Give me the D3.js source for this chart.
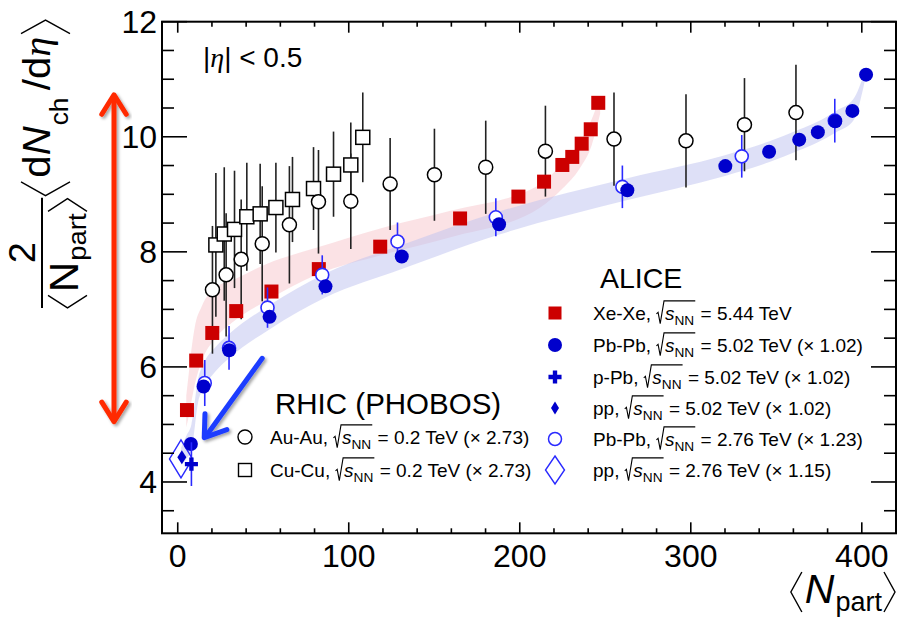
<!DOCTYPE html>
<html>
<head>
<meta charset="utf-8">
<script src="https://cdn.jsdelivr.net/npm/d3@7"></script>
<style>
body { margin: 0; background: #fff; }
svg { display: block; font-family: "Liberation Sans", Arial, Helvetica, sans-serif; }
</style>
</head>
<body>
<svg id="chart" width="898" height="619"></svg>
<script>
// ALICE Xe-Xe 5.44 TeV
const xeXeNpart = [5.4, 10.8, 20.2, 34.2, 54.8, 82.5, 118.4, 165.1, 199.2, 214.2, 224.9, 230.7, 236.2, 241.5, 245.9];
const xeXeValue = [5.25, 6.11, 6.59, 6.97, 7.31, 7.70, 8.09, 8.58, 8.96, 9.22, 9.51, 9.65, 9.88, 10.13, 10.59];

// ALICE Pb-Pb 5.02 TeV (x 1.02)
const pbPb502Npart = [7.7, 15.1, 30.1, 53.7, 86.4, 131.0, 187.9, 262.9, 320.2, 345.8, 363.4, 374.3, 384.5, 394.5, 402.5];
const pbPb502Value = [4.66, 5.66, 6.29, 6.87, 7.40, 7.92, 8.48, 9.07, 9.49, 9.74, 9.95, 10.08, 10.27, 10.45, 11.08];

// ALICE Pb-Pb 2.76 TeV (x 1.23)
const pbPb276Npart = [15.8, 30.0, 52.5, 84.5, 128.5, 186.0, 260.0, 329.8, 384.2];
const pbPb276Value = [5.72, 6.33, 7.03, 7.60, 8.18, 8.60, 9.13, 9.66, 10.28];
const pbPb276Err = [0.40, 0.38, 0.35, 0.34, 0.33, 0.33, 0.37, 0.37, 0.38];

// ALICE p-Pb and pp
const pPbPoint = { npart: 8.0, value: 4.31, err: 0.38 };
const pp502Point = { npart: 2.4, value: 4.43 };
const pp276Point = { npart: 1.9, value: 4.40 };

// PHOBOS Au-Au and Cu-Cu 0.2 TeV (x 2.73)
const auAuNpart = [20.3, 28.3, 37.1, 49.4, 65.3, 82.3, 101.2, 124.2, 150.1, 180.1, 215.0, 255.1, 297.2, 331.4, 361.5];
const auAuValue = [7.34, 7.60, 7.87, 8.14, 8.47, 8.87, 8.88, 9.18, 9.34, 9.47, 9.75, 9.96, 9.93, 10.21, 10.42];
const auAuErr = [1.11, 1.07, 1.04, 1.00, 1.02, 0.90, 0.83, 0.80, 0.80, 0.81, 0.79, 0.81, 0.81, 0.81, 0.83];

const cuCuNpart = [22.3, 27.2, 33.2, 40.4, 48.2, 57.4, 67.1, 79.4, 91.1, 101.2, 108.2];
const cuCuValue = [8.12, 8.31, 8.39, 8.61, 8.66, 8.77, 8.91, 9.10, 9.35, 9.51, 9.99];
const cuCuErr = [1.25, 1.16, 1.02, 0.94, 0.87, 0.78, 0.74, 0.72, 0.74, 0.74, 0.78];

// bands
const xeBandN  = [5, 6.5, 8, 10, 14, 22, 33, 52, 81, 120, 159, 212, 225, 235, 242, 247];
const xeBandHi = [5.5, 5.9, 6.3, 6.7, 7.05, 7.38, 7.52, 7.79, 8.07, 8.42, 8.71, 9.17, 9.55, 9.9, 10.3, 10.7];
const xeBandLo = [4.95, 5.15, 5.4, 5.7, 6.1, 6.5, 6.8, 7.15, 7.6, 7.95, 8.25, 8.77, 9.1, 9.45, 9.85, 10.4];

const pbBandN  = [2, 5, 8, 12, 15, 22, 30, 54, 86, 131, 188, 263, 320, 346, 363, 374, 385, 395, 402];
const pbBandLo = [4.3, 4.4, 4.55, 5.4, 5.62, 5.92, 6.15, 6.66, 7.2, 7.7, 8.3, 8.9, 9.32, 9.56, 9.76, 9.9, 10.08, 10.28, 11.0];
const pbBandHi = [4.6, 4.8, 5.0, 5.8, 6.05, 6.34, 6.57, 7.08, 7.62, 8.12, 8.7, 9.28, 9.68, 9.92, 10.12, 10.26, 10.45, 10.65, 11.15];

// axis ticks
const xMajor = [0, 100, 200, 300, 400];
const yMajor = [4, 6, 8, 10, 12];

const svg = d3.select("#chart");
const frame = { left: 162, right: 896, top: 21.7, bottom: 533.3 };

const x = d3.scaleLinear().domain([-9.2, 420]).range([frame.left, frame.right]);
const y = d3.scaleLinear().domain([3.108, 12]).range([frame.bottom, frame.top]);

const defs = svg.append("defs");
const shadow = defs.append("filter").attr("id", "shadow")
    .attr("x", "-20%").attr("y", "-20%").attr("width", "140%").attr("height", "140%");
shadow.append("feDropShadow")
    .attr("dx", 2).attr("dy", 2).attr("stdDeviation", 1.6)
    .attr("flood-color", "#000").attr("flood-opacity", 0.35);

const plot = svg.append("g");

// bands
function drawBand(ns, lo, hi, fill) {
    const pts = ns.map((n, i) => ({ n: n, lo: lo[i], hi: hi[i] }));
    const area = d3.area()
        .x(d => x(d.n))
        .y0(d => y(d.lo))
        .y1(d => y(d.hi))
        .curve(d3.curveMonotoneX);
    plot.append("path")
        .datum(pts)
        .attr("d", area)
        .attr("fill", fill)
        .attr("fill-opacity", 0.5);
}
drawBand(xeBandN, xeBandLo, xeBandHi, "rgb(248,198,204)");
drawBand(pbBandN, pbBandLo, pbBandHi, "rgb(190,194,240)");

// error bars
function drawErrors(ns, vs, errs, color, width) {
    plot.append("g").selectAll("line")
        .data(ns.map((n, i) => ({ n: n, v: vs[i], e: errs[i] })))
        .enter().append("line")
        .attr("x1", d => x(d.n)).attr("x2", d => x(d.n))
        .attr("y1", d => y(d.v - d.e)).attr("y2", d => y(d.v + d.e))
        .attr("stroke", color)
        .attr("stroke-width", width);
}

function diamondPath(w, h) {
    return `M0,${-h / 2} L${w / 2},0 L0,${h / 2} L${-w / 2},0 Z`;
}

drawErrors(auAuNpart, auAuValue, auAuErr, "#222", 1.6);
drawErrors(cuCuNpart, cuCuValue, cuCuErr, "#222", 1.6);

// PHOBOS markers
plot.append("g").selectAll("rect")
    .data(cuCuNpart.map((n, i) => ({ n: n, v: cuCuValue[i] })))
    .enter().append("rect")
    .attr("x", d => x(d.n) - 7).attr("y", d => y(d.v) - 7)
    .attr("width", 14).attr("height", 14)
    .attr("fill", "#fff").attr("stroke", "#000").attr("stroke-width", 1.5);

plot.append("g").selectAll("circle")
    .data(auAuNpart.map((n, i) => ({ n: n, v: auAuValue[i] })))
    .enter().append("circle")
    .attr("cx", d => x(d.n)).attr("cy", d => y(d.v))
    .attr("r", 7)
    .attr("fill", "#fff").attr("stroke", "#000").attr("stroke-width", 1.5);

// Xe-Xe
plot.append("g").selectAll("rect")
    .data(xeXeNpart.map((n, i) => ({ n: n, v: xeXeValue[i] })))
    .enter().append("rect")
    .attr("x", d => x(d.n) - 7).attr("y", d => y(d.v) - 7)
    .attr("width", 14).attr("height", 14)
    .attr("fill", "#cc0000");

// pp 2.76 open diamond
plot.append("path")
    .attr("d", diamondPath(23, 38))
    .attr("transform", `translate(${x(pp276Point.npart)},${y(pp276Point.value)})`)
    .attr("fill", "none").attr("stroke", "#2a2aff").attr("stroke-width", 1.4);

// Pb-Pb 2.76 open circles
drawErrors(pbPb276Npart, pbPb276Value, pbPb276Err, "#2a2aff", 1.6);
plot.append("g").selectAll("circle")
    .data(pbPb276Npart.map((n, i) => ({ n: n, v: pbPb276Value[i] })))
    .enter().append("circle")
    .attr("cx", d => x(d.n)).attr("cy", d => y(d.v))
    .attr("r", 6.5)
    .attr("fill", "#fff").attr("stroke", "#2a2aff").attr("stroke-width", 1.6);

// Pb-Pb 5.02 filled circles
plot.append("g").selectAll("circle")
    .data(pbPb502Npart.map((n, i) => ({ n: n, v: pbPb502Value[i] })))
    .enter().append("circle")
    .attr("cx", d => x(d.n)).attr("cy", d => y(d.v))
    .attr("r", 7)
    .attr("fill", "#0000cc");

// p-Pb cross
drawErrors([pPbPoint.npart], [pPbPoint.value], [pPbPoint.err], "#2a2aff", 1.6);
plot.append("path")
    .attr("d", d3.symbol(d3.symbolCross, 95)())
    .attr("transform", `translate(${x(pPbPoint.npart)},${y(pPbPoint.value)})`)
    .attr("fill", "#0000cc");

// pp 5.02 filled diamond
plot.append("path")
    .attr("d", diamondPath(9, 14))
    .attr("transform", `translate(${x(pp502Point.npart)},${y(pp502Point.value)})`)
    .attr("fill", "#0000cc");

// axes
const axisG = svg.append("g").attr("stroke", "#000");
axisG.append("rect")
    .attr("x", frame.left).attr("y", frame.top)
    .attr("width", frame.right - frame.left).attr("height", frame.bottom - frame.top)
    .attr("fill", "none").attr("stroke-width", 2);

const xMinor = d3.range(0, 421, 20).filter(v => v % 100 !== 0);
const yMinor = d3.range(3.5, 12, 0.5).filter(v => v % 2 !== 0);

function ticksX(vals, len) {
    vals.forEach(v => {
        axisG.append("line").attr("x1", x(v)).attr("x2", x(v))
            .attr("y1", frame.bottom).attr("y2", frame.bottom - len).attr("stroke-width", 1.6);
        axisG.append("line").attr("x1", x(v)).attr("x2", x(v))
            .attr("y1", frame.top).attr("y2", frame.top + len).attr("stroke-width", 1.6);
    });
}
function ticksY(vals, len) {
    vals.forEach(v => {
        axisG.append("line").attr("x1", frame.left).attr("x2", frame.left + len)
            .attr("y1", y(v)).attr("y2", y(v)).attr("stroke-width", 1.6);
        axisG.append("line").attr("x1", frame.right).attr("x2", frame.right - len)
            .attr("y1", y(v)).attr("y2", y(v)).attr("stroke-width", 1.6);
    });
}
ticksX(xMajor, 11);
ticksX(xMinor, 5);
ticksY(yMajor, 25);
ticksY(yMinor, 12);

svg.append("g").selectAll("text")
    .data(xMajor).enter().append("text")
    .attr("x", d => x(d)).attr("y", 567)
    .attr("text-anchor", "middle")
    .style("font-size", "32px")
    .text(d => d);

svg.append("g").selectAll("text")
    .data(yMajor).enter().append("text")
    .attr("x", 157).attr("y", d => y(d) + 11.5)
    .attr("text-anchor", "end")
    .style("font-size", "32px")
    .text(d => d);

// helpers for formula-like text
function bracket(g, x0, yTop, yBot, w, left) {
    const mid = (yTop + yBot) / 2;
    const d = left
        ? `M${x0 + w},${yTop} L${x0},${mid} L${x0 + w},${yBot}`
        : `M${x0},${yTop} L${x0 + w},${mid} L${x0},${yBot}`;
    g.append("path").attr("d", d).attr("fill", "none").attr("stroke", "#000").attr("stroke-width", 1.4);
}
function word(g, x0, yb, size, txt, opts) {
    opts = opts || {};
    const t = g.append("text").attr("x", x0).attr("y", yb)
        .style("font-size", size + "px").text(txt);
    if (opts.italic) t.style("font-style", "italic");
    if (opts.serif) t.style("font-family", "'Liberation Serif', 'DejaVu Serif', serif");
    return t.node().getComputedTextLength();
}

// x axis title  <N_part>
(function () {
    const g = svg.append("g");
    let cx = 0;
    bracket(g, cx, -31, 9, 11, true); cx += 14;
    cx += word(g, cx, 0, 41, "N", { italic: true }) + 1;
    cx += word(g, cx, 8, 27, "part") + 2;
    bracket(g, cx, -31, 9, 11, false); cx += 12;
    g.attr("transform", `translate(${frame.right - cx},603)`);
})();

// y axis title  2/<N_part> <dN_ch/d eta>
(function () {
    const g = svg.append("g");
    let cx = 0;
    // denominator
    bracket(g, cx, -2, 37, 12, true); cx += 15;
    cx += word(g, cx, 28, 40, "N") + 1;
    cx += word(g, cx, 36, 26, "part") + 2;
    bracket(g, cx, -2, 37, 12, false); cx += 13;
    const wd = cx;
    g.append("line").attr("x1", 0).attr("x2", wd).attr("y1", -8).attr("y2", -8)
        .attr("stroke", "#000").attr("stroke-width", 2);
    g.append("text").attr("x", wd / 2).attr("y", -15).attr("text-anchor", "middle")
        .style("font-size", "36px").text("2");
    cx += 2;
    bracket(g, cx, -29, 20, 13, true); cx += 17;
    cx += word(g, cx, 0, 38, "d");
    cx += word(g, cx, 0, 38, "N", { italic: true }) + 1;
    cx += word(g, cx, 18, 25, "ch") + 7;
    cx += word(g, cx, 0, 38, "/");
    cx += word(g, cx, 0, 38, "d");
    cx += word(g, cx, 0, 38, "\u03b7", { italic: true, serif: true }) + 3;
    bracket(g, cx, -29, 20, 13, false); cx += 13;
    const sx = Math.max(1, Math.min(1.4, 288 / cx));
    g.attr("transform", `translate(50,308) rotate(-90) scale(${sx},1)`);
})();

// |eta| < 0.5
const etaText = svg.append("text").attr("x", 203).attr("y", 67).style("font-size", "28px");
etaText.append("tspan").text("|");
etaText.append("tspan").style("font-style", "italic")
    .style("font-family", "'Liberation Serif', 'DejaVu Serif', serif").text("\u03b7");
etaText.append("tspan").text("| < 0.5");

// legend entry with sqrt(s_NN)
function legendLabel(x0, yb, fs, prefix, rest) {
    const g = svg.append("g");
    let cx = x0;
    cx += word(g, cx, yb, fs, prefix) + fs * 0.28;
    const rx = cx;
    const rw = fs * 0.4;
    cx += rw + 1;
    cx += word(g, cx, yb, fs, "s", { italic: true });
    cx += word(g, cx, yb + fs * 0.3, fs * 0.72, "NN") + 1;
    const top = yb - fs * 0.98;
    g.append("path")
        .attr("d", `M${rx},${yb - fs * 0.3} L${rx + rw * 0.22},${yb - fs * 0.38} L${rx + rw * 0.5},${yb + fs * 0.22} L${rx + rw},${top} L${cx},${top}`)
        .attr("fill", "none").attr("stroke", "#000").attr("stroke-width", 1.1);
    cx += fs * 0.28;
    word(g, cx, yb, fs, rest);
}

// RHIC legend
svg.append("text").attr("x", 275).attr("y", 414).style("font-size", "29.5px").text("RHIC (PHOBOS)");
svg.append("circle").attr("cx", 245).attr("cy", 437).attr("r", 7)
    .attr("fill", "#fff").attr("stroke", "#000").attr("stroke-width", 1.4);
svg.append("rect").attr("x", 238.5).attr("y", 463.5).attr("width", 13).attr("height", 13)
    .attr("fill", "#fff").attr("stroke", "#000").attr("stroke-width", 1.4);
legendLabel(270, 443.5, 19, "Au-Au,", "= 0.2 TeV (\u00d7 2.73)");
legendLabel(270, 476.5, 19, "Cu-Cu,", "= 0.2 TeV (\u00d7 2.73)");

// ALICE legend
svg.append("text").attr("x", 600).attr("y", 288).style("font-size", "28.5px").text("ALICE");
const lx = 555;
const rowY = [313, 345, 377, 408, 439, 470];
svg.append("rect").attr("x", lx - 6.5).attr("y", rowY[0] - 6.5).attr("width", 13).attr("height", 13).attr("fill", "#cc0000");
svg.append("circle").attr("cx", lx).attr("cy", rowY[1]).attr("r", 7).attr("fill", "#0000cc");
svg.append("path").attr("d", d3.symbol(d3.symbolCross, 95)()).attr("transform", `translate(${lx},${rowY[2]})`).attr("fill", "#0000cc");
svg.append("path").attr("d", diamondPath(8, 13)).attr("transform", `translate(${lx},${rowY[3]})`).attr("fill", "#0000cc");
svg.append("circle").attr("cx", lx).attr("cy", rowY[4]).attr("r", 6.5)
    .attr("fill", "#fff").attr("stroke", "#2a2aff").attr("stroke-width", 1.5);
svg.append("path").attr("d", diamondPath(19, 28)).attr("transform", `translate(${lx},${rowY[5]})`)
    .attr("fill", "none").attr("stroke", "#2a2aff").attr("stroke-width", 1.4);

legendLabel(593, rowY[0] + 6.5, 19, "Xe-Xe,", "= 5.44 TeV");
legendLabel(593, rowY[1] + 6.5, 19, "Pb-Pb,", "= 5.02 TeV (\u00d7 1.02)");
legendLabel(593, rowY[2] + 6.5, 19, "p-Pb,", "= 5.02 TeV (\u00d7 1.02)");
legendLabel(593, rowY[3] + 6.5, 19, "pp,", "= 5.02 TeV (\u00d7 1.02)");
legendLabel(593, rowY[4] + 6.5, 19, "Pb-Pb,", "= 2.76 TeV (\u00d7 1.23)");
legendLabel(593, rowY[5] + 6.5, 19, "pp,", "= 2.76 TeV (\u00d7 1.15)");

// annotation arrows
function arrowHead(g, tx, ty, fx, fy, len, ang) {
    const a = Math.atan2(fy - ty, fx - tx);
    const p1 = [tx + len * Math.cos(a + ang), ty + len * Math.sin(a + ang)];
    const p2 = [tx + len * Math.cos(a - ang), ty + len * Math.sin(a - ang)];
    g.append("path").attr("d", `M${p1[0]},${p1[1]} L${tx},${ty} L${p2[0]},${p2[1]}`)
        .attr("fill", "none");
}

const redArrow = svg.append("g").attr("stroke", "#ff2a00").attr("stroke-width", 5)
    .attr("stroke-linecap", "round").attr("stroke-linejoin", "round").attr("filter", "url(#shadow)");
const ra = { x: 114, top: y(10.73), bot: y(5.05) };
redArrow.append("line").attr("x1", ra.x).attr("x2", ra.x).attr("y1", ra.top + 2).attr("y2", ra.bot - 2);
arrowHead(redArrow, ra.x, ra.top, ra.x, ra.bot, 23, 0.56);
arrowHead(redArrow, ra.x, ra.bot, ra.x, ra.top, 23, 0.56);

const blueArrow = svg.append("g").attr("stroke", "#1e3cff").attr("stroke-width", 5)
    .attr("stroke-linecap", "round").attr("stroke-linejoin", "round").attr("filter", "url(#shadow)");
const ba = { x1: x(49.4), y1: y(6.15), x2: x(15.5), y2: y(4.77) };
blueArrow.append("line").attr("x1", ba.x1).attr("y1", ba.y1).attr("x2", ba.x2 + 2).attr("y2", ba.y2 - 2);
arrowHead(blueArrow, ba.x2, ba.y2, ba.x1, ba.y1, 24, 0.6);
</script>
</body>
</html>
